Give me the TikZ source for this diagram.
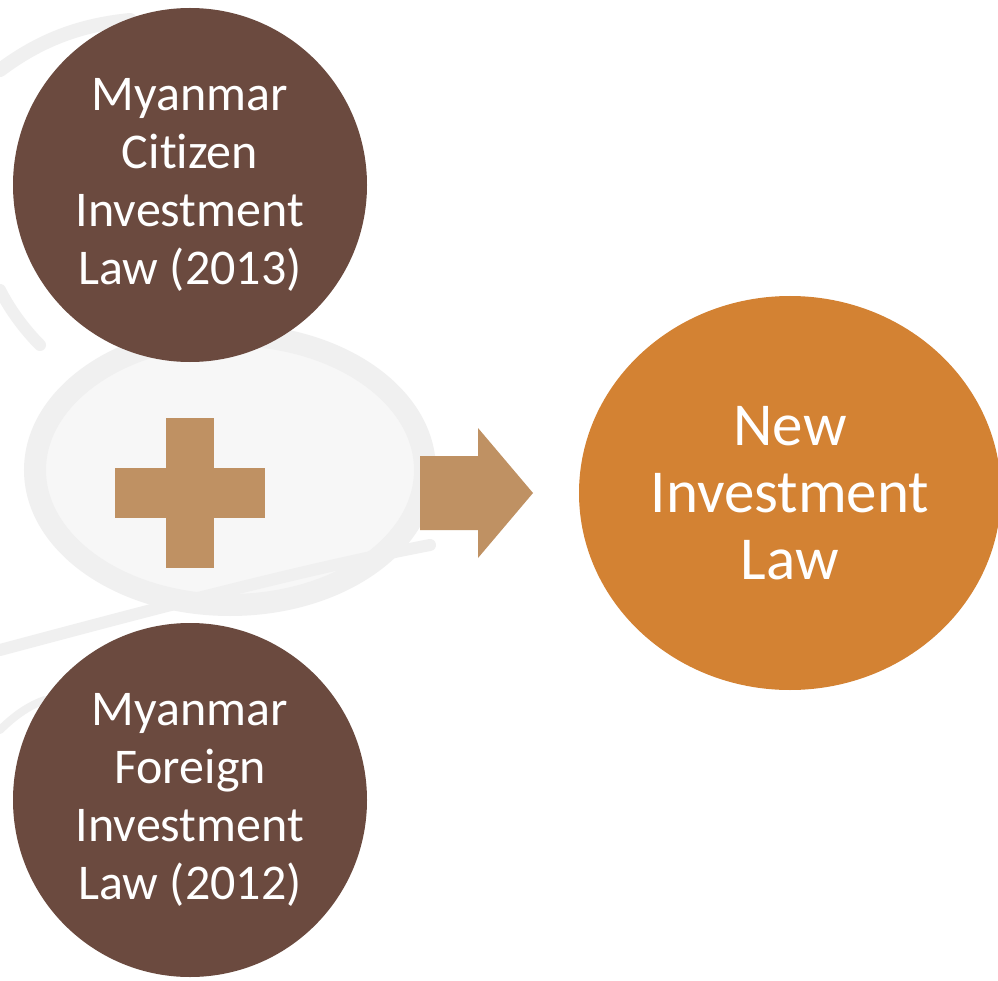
\documentclass[tikz,border=0pt]{standalone}
\usepackage{fontspec}
\setmainfont{Carlito}[Ligatures={NoCommon,NoRequired,NoContextual}]
\usetikzlibrary{shapes.geometric,shapes.arrows}
\definecolor{lawbrown}{HTML}{6B4A3F}
\definecolor{plustan}{HTML}{BF9163}
\definecolor{neworange}{HTML}{D38233}
\definecolor{wmark}{HTML}{F0F0F0}
\definecolor{wmarkfill}{HTML}{F7F7F7}
\tikzset{
  lawcircle/.style={circle, fill=lawbrown, minimum size=354pt, inner sep=0pt,
    text=white, align=center, font=\fontsize{50}{58}\selectfont},
  newlaw/.style={ellipse, fill=neworange, minimum width=422pt, minimum height=394pt, inner sep=0pt,
    text=white, align=center, font=\fontsize{61}{67}\selectfont},
  wm/.style={draw=wmark, line cap=round}
}
\begin{document}
\begin{tikzpicture}[x=1pt,y=-1pt]
\useasboundingbox (0,0) rectangle (998,981);
\clip (0,0) rectangle (998,981);
\fill[white] (0,0) rectangle (998,981);
% faint background watermark
\fill[wmarkfill] (230,470) ellipse [x radius=195, y radius=135];
\draw[wm, line width=22] (230,470) ellipse [x radius=195, y radius=135];
\draw[wm, line width=12] (0,650) .. controls (150,610) and (300,570) .. (430,545);
\draw[wm, line width=14] (0,70) .. controls (40,40) and (80,25) .. (130,20);
\draw[wm, line width=12] (0,290) .. controls (10,310) and (25,330) .. (40,345);
\draw[wm, line width=8] (0,730) .. controls (15,715) and (30,705) .. (45,700);
% nodes
\node[lawcircle] (citizen) at (190,185) {Myanmar\\Citizen\\Investment\\Law (2013)};
\node[lawcircle] (foreign) at (190,800) {Myanmar\\Foreign\\Investment\\Law (2012)};
\node[newlaw] (newlaw) at (790,493) {New\\Investment\\Law};
% plus sign
\coordinate (plusc) at (190,493);
\fill[plustan] (115,468) rectangle (265,518);
\fill[plustan] (166,418) rectangle (214,568);
% arrow
\coordinate (arrc) at (476,493);
\fill[plustan] (420,456) -- (478,456) -- (478,428) -- (533,493) -- (478,558) -- (478,530) -- (420,530) -- cycle;
\end{tikzpicture}
\end{document}
